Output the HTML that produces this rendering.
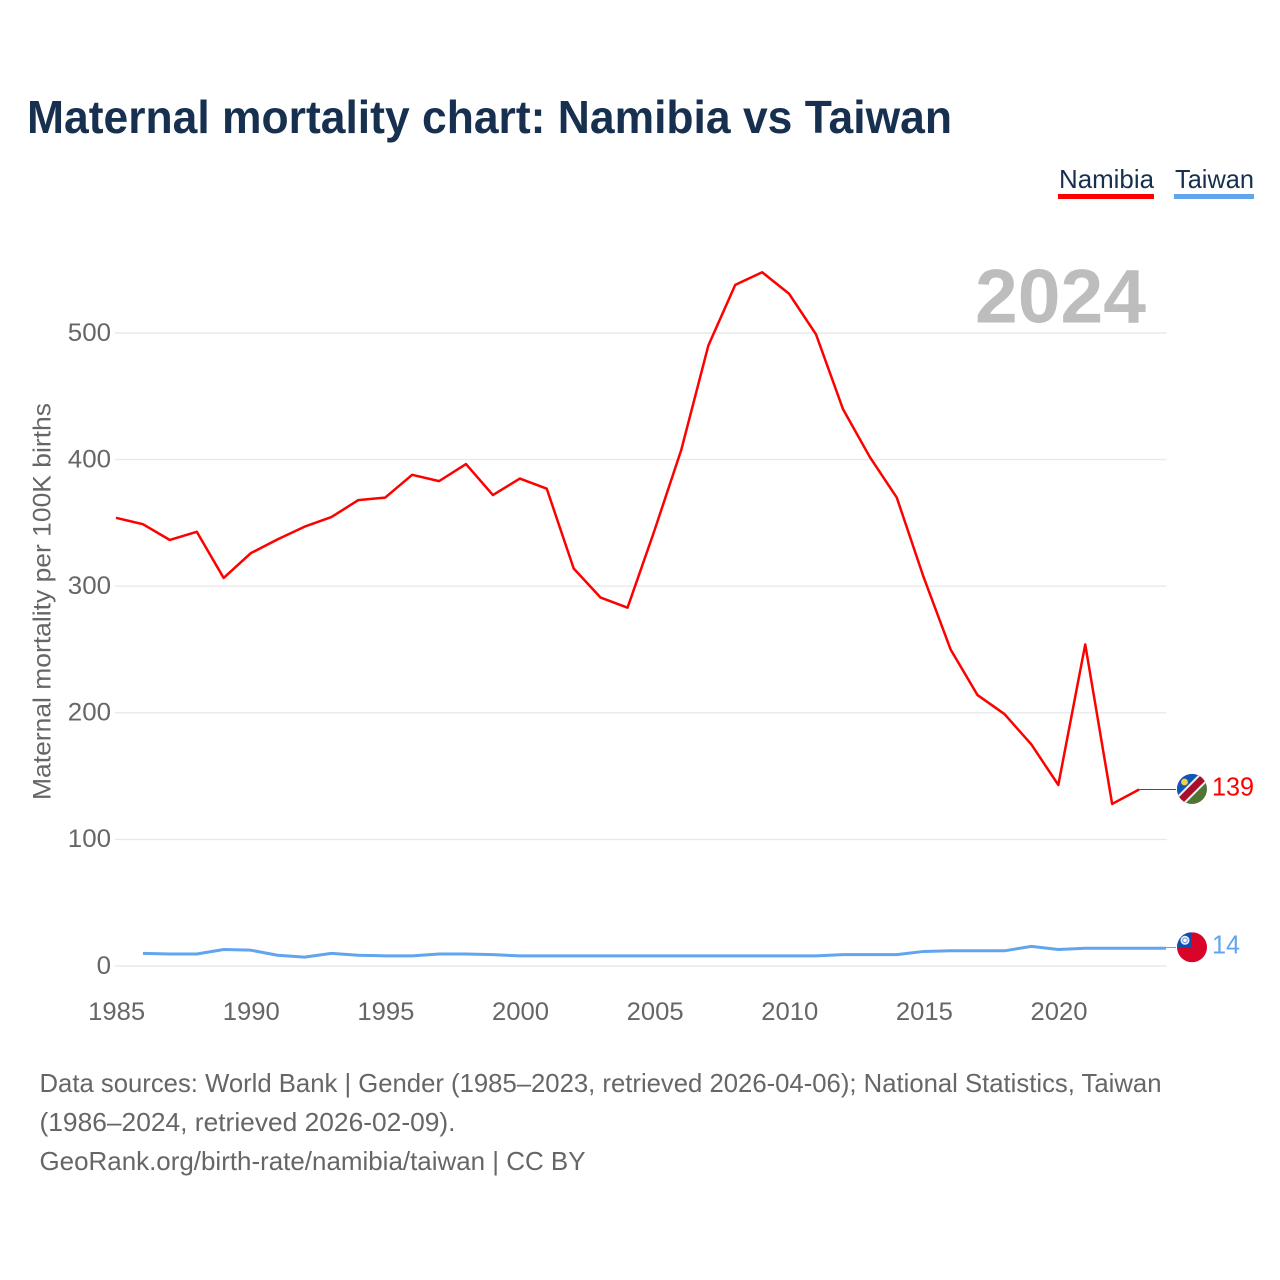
<!DOCTYPE html>
<html lang="en">
<head>
<meta charset="utf-8">
<title>Maternal mortality chart: Namibia vs Taiwan</title>
<style>
html,body{margin:0;padding:0;background:#fff;width:1280px;height:1280px;overflow:hidden}
svg{display:block}
text{font-family:"Liberation Sans",sans-serif}
</style>
</head>
<body>
<svg id="chart" width="1280" height="1280" viewBox="0 0 1280 1280" xmlns="http://www.w3.org/2000/svg">
<defs>
<clipPath id="flag-clip"><circle cx="0" cy="0" r="15"/></clipPath>
</defs>
<text x="27" y="133" font-size="46" font-weight="700" fill="#17304f" textLength="925" lengthAdjust="spacingAndGlyphs">Maternal mortality chart: Namibia vs Taiwan</text>

<g>
<g>
<text x="1059" y="188" font-size="26" fill="#17304f" textLength="95" lengthAdjust="spacingAndGlyphs">Namibia</text>
<rect x="1058" y="194" width="96" height="5" fill="#ff0000"/>
</g>
<g>
<text x="1175" y="188" font-size="26" fill="#17304f" textLength="79" lengthAdjust="spacingAndGlyphs">Taiwan</text>
<rect x="1174" y="194" width="80" height="5" fill="#60a5ee"/>
</g>
</g>

<g id="grid"></g>
<text x="975" y="322.5" font-size="76" font-weight="700" fill="#bdbdbd" textLength="171" lengthAdjust="spacingAndGlyphs">2024</text>
<g id="yticks"></g>
<g id="xticks"></g>
<text transform="translate(50.5 800) rotate(-90)" x="0" y="0" font-size="25" fill="#666666" textLength="397" lengthAdjust="spacingAndGlyphs">Maternal mortality per 100K births</text>

<g id="series"></g>

<g id="flag-namibia">
<g clip-path="url(#flag-clip)">
<rect x="-15" y="-15" width="30" height="30" fill="#4f7433"/>
<polygon points="-15,-15 15,-15 -15,15" fill="#0f57b4"/>
<line x1="-18" y1="18" x2="18" y2="-18" stroke="#f2f2f2" stroke-width="11"/>
<line x1="-18" y1="18" x2="18" y2="-18" stroke="#a80f2b" stroke-width="7"/>
<circle cx="-7.5" cy="-7" r="3.4" fill="#f5cc4e"/>
</g>
</g>
<g id="flag-taiwan">
<g clip-path="url(#flag-clip)">
<rect x="-15" y="-15" width="30" height="30" fill="#d90429"/>
<rect x="-15" y="-15" width="15" height="15" fill="#0f4fae"/>
<circle cx="-7" cy="-7" r="4.5" fill="#e8eef8"/>
<circle cx="-7" cy="-7" r="2.8" fill="#6d93d0"/>
<circle cx="-7" cy="-7" r="1.8" fill="#ffffff"/>
</g>
</g>
<text id="value-namibia" x="1212" font-size="26" fill="#ff0000" textLength="42" lengthAdjust="spacingAndGlyphs"></text>
<text id="value-taiwan" x="1212" font-size="26" fill="#60a5ee" textLength="28" lengthAdjust="spacingAndGlyphs"></text>

<g font-size="26" fill="#666666">
<text x="39.5" y="1092" textLength="1122" lengthAdjust="spacingAndGlyphs">Data sources: World Bank | Gender (1985–2023, retrieved 2026-04-06); National Statistics, Taiwan</text>
<text x="39.5" y="1131" textLength="416" lengthAdjust="spacingAndGlyphs">(1986–2024, retrieved 2026-02-09).</text>
<text x="39.5" y="1170" textLength="546" lengthAdjust="spacingAndGlyphs">GeoRank.org/birth-rate/namibia/taiwan | CC BY</text>
</g>
</svg>
<script>
const namibiaYears = [1985,1986,1987,1988,1989,1990,1991,1992,1993,1994,1995,1996,1997,1998,1999,2000,2001,2002,2003,2004,2005,2006,2007,2008,2009,2010,2011,2012,2013,2014,2015,2016,2017,2018,2019,2020,2021,2022,2023];
const namibiaValues = [354,349,336.5,343,306.5,326,337,347,354.6,368,370,388,383,396.5,372,385,377,314,291,283,344,408,490,538,548,531,499,440,402,370,307,250,214,199,175,143,254,128,139.4];
const taiwanYears = [1986,1987,1988,1989,1990,1991,1992,1993,1994,1995,1996,1997,1998,1999,2000,2001,2002,2003,2004,2005,2006,2007,2008,2009,2010,2011,2012,2013,2014,2015,2016,2017,2018,2019,2020,2021,2022,2023,2024];
const taiwanValues = [10,9.5,9.5,13,12.5,8.5,7,10,8.5,8,8,9.5,9.5,9,8,8,8,8,8,8,8,8,8,8,8,8,9,9,9,11.5,12,12,12,15.5,13,14,14,14,14];
const yTicks = [0,100,200,300,400,500];
const xTicks = [1985,1990,1995,2000,2005,2010,2015,2020];

const NS = 'http://www.w3.org/2000/svg';
function xScale(year){ return 116 + (year - 1985) * (1050 / 39); }
function yScale(v){ return 966 - v * 1.266; }
function make(tag, attrs, parent){
  const el = document.createElementNS(NS, tag);
  for (const k in attrs) el.setAttribute(k, attrs[k]);
  parent.appendChild(el);
  return el;
}
const grid = document.getElementById('grid');
const yG = document.getElementById('yticks');
const xG = document.getElementById('xticks');
const seriesG = document.getElementById('series');

yTicks.forEach(function(t){
  const line = make('line', {x1:115, x2:1166.5, y1:yScale(t), y2:yScale(t), stroke:'#e9e9e9', 'stroke-width':1.4}, grid);
  
  
  const s = String(t);
  const label = make('text', {x:111, y:yScale(t)+7.8, 'text-anchor':'end', 'font-size':25, fill:'#666666', textLength:s.length*14.4, lengthAdjust:'spacingAndGlyphs'}, yG);
  
  
  label.textContent = s;
});
xTicks.forEach(function(t){
  const s = String(t);
  const label = make('text', {x:xScale(t)+0.7, y:1020, 'text-anchor':'middle', 'font-size':25, fill:'#666666', textLength:57, lengthAdjust:'spacingAndGlyphs'}, xG);
  
  
  label.textContent = s;
});

function pathFor(years, values){
  return values.map(function(v,i){ return (i?'L':'M') + xScale(years[i]).toFixed(2) + ' ' + yScale(v).toFixed(2); }).join('');
}
const nLine = make('path', {d:pathFor(namibiaYears, namibiaValues), fill:'none', stroke:'#ff0000', 'stroke-width':2.5, 'stroke-linejoin':'round'}, seriesG);


const tLine = make('path', {d:pathFor(taiwanYears, taiwanValues), fill:'none', stroke:'#60a5ee', 'stroke-width':3, 'stroke-linejoin':'round'}, seriesG);



const nLast = namibiaValues[namibiaValues.length-1];
const tLast = taiwanValues[taiwanValues.length-1];
const nY = Math.floor(yScale(nLast)) + 0.5;
const tY = Math.round(yScale(tLast)) - 0.5;
const nConn = make('line', {x1:xScale(namibiaYears[namibiaYears.length-1]), x2:1176, y1:nY, y2:nY, stroke:'#ff0000', 'stroke-width':1}, seriesG);


const tConn = make('line', {x1:xScale(taiwanYears[taiwanYears.length-1]), x2:1176, y1:tY, y2:tY, stroke:'#60a5ee', 'stroke-width':1}, seriesG);



document.getElementById('flag-namibia').setAttribute('transform', 'translate(1192 ' + (yScale(nLast)-0.5) + ')');
document.getElementById('flag-taiwan').setAttribute('transform', 'translate(1192 ' + (yScale(tLast)-1) + ')');
const nVal = document.getElementById('value-namibia');
nVal.setAttribute('y', yScale(nLast)+6);
nVal.textContent = String(Math.round(nLast));
const tVal = document.getElementById('value-taiwan');
tVal.setAttribute('y', yScale(tLast)+5);
tVal.textContent = String(Math.round(tLast));
</script>
</body>
</html>
